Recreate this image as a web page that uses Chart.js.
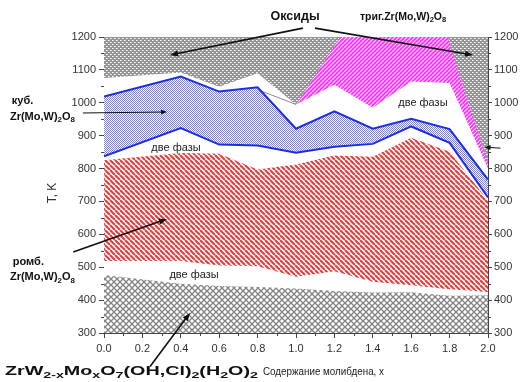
<!DOCTYPE html>
<html>
<head>
<meta charset="utf-8">
<script src="https://cdn.jsdelivr.net/npm/chart.js@4.4.0/dist/chart.umd.min.js"></script>
<style>
  html, body { margin: 0; padding: 0; background: #fff; }
  #wrap { width: 521px; height: 382px; }
</style>
</head>
<body>
<div id="wrap"><canvas id="chart" width="521" height="382"></canvas></div>
<script>
// Mo content, x
const xMo = [0, 0.4, 0.6, 0.8, 1.0, 1.2, 1.4, 1.6, 1.8, 2.0];
// phase boundaries, K
const hydrateTop  = [476, 450, 443, 440, 435, 428, 423, 424, 413, 415];
const orthoBottom = [519, 519, 505, 503, 471, 488, 456, 445, 433, 425];
const orthoTop    = [825, 847, 845, 797, 812, 840, 836, 894, 851, 703];
const cubicBottom = [837, 923, 873, 870, 848, 866, 875, 928, 878, 712];
const cubicTop    = [1019, 1080, 1034, 1047, 921, 974, 921, 951, 920, 766];
const oxideBottom = [1075, 1092, 1049, 1090, 995, 1055, 985, 1065, 1060, 800];
const oxideTop    = [1200, 1200, 1200, 1200, 1200, 1200, 1200, 1200, 1200, 1200];
// trigonal region upper edge
const trigX = [1.0, 1.23, 1.79, 2.0];
const trigTop = [995, 1200, 1200, 815];
// thin tie line
const tieX = [0.8, 1.0];
const tieT = [1040, 995];

const xTicks = [0, 0.2, 0.4, 0.6, 0.8, 1.0, 1.2, 1.4, 1.6, 1.8, 2.0];
const yTicks = [300, 400, 500, 600, 700, 800, 900, 1000, 1100, 1200];
const xMinor = [0.1, 0.3, 0.5, 0.7, 0.9, 1.1, 1.3, 1.5, 1.7, 1.9];
const yMinor = [350, 450, 550, 650, 750, 850, 950, 1050, 1150];

// annotations (data coords); fit = target width in px
const notes = [
  { text: 'Оксиды', x: 0.995, t: 1261, size: 12.5, bold: true, align: 'center' },
  { text: 'триг.Zr(Mo,W)_2O_8', x: 1.333, t: 1261, size: 10.5, bold: true, align: 'left' },
  { text: 'куб.', x: -0.48, t: 1005, size: 11, bold: true, align: 'left' },
  { text: 'Zr(Mo,W)_2O_8', x: -0.49, t: 957, size: 11, bold: true, align: 'left' },
  { text: 'ромб.', x: -0.475, t: 516, size: 11, bold: true, align: 'left' },
  { text: 'Zr(Mo,W)_2O_8', x: -0.49, t: 470, size: 11, bold: true, align: 'left' },
  { text: 'ZrW_{2-x}Mo_xO_7(OH,Cl)_2(H_2O)_2', x: -0.516, t: 183, size: 13.5, bold: true, align: 'left', fit: 253 },
  { text: 'Содержание молибдена, x', x: 0.828, t: 183, size: 11, bold: false, align: 'left', fit: 121 },
  { text: 'две фазы', x: 0.375, t: 862, size: 11, bold: false, align: 'center' },
  { text: 'две фазы', x: 1.661, t: 999, size: 11, bold: false, align: 'center' },
  { text: 'две фазы', x: 0.469, t: 476, size: 11, bold: false, align: 'center' }
];
const arrows = [
  { from: [1.036, 1227], to: [0.344, 1145] },
  { from: [1.099, 1227], to: [1.922, 1145] },
  { from: [-0.11, 969], to: [0.328, 972], thin: true },
  { from: [-0.16, 546], to: [0.328, 647] },
  { from: [0.24, 198], to: [0.448, 361] },
  { from: [2.065, 862], to: [1.982, 865], thin: true }
];

function makePattern(w, h, draw) {
  const c = document.createElement('canvas');
  c.width = w; c.height = h;
  const g = c.getContext('2d');
  draw(g, w, h);
  return g.createPattern(c, 'repeat');
}
const oxidePat = makePattern(4, 4, g => {
  g.fillStyle = '#959595'; g.fillRect(0, 0, 4, 4);
  g.fillStyle = '#ffffff'; g.fillRect(0, 0, 1, 1); g.fillRect(2, 2, 1, 1);
  g.fillStyle = '#d8d8d8'; g.fillRect(1, 0, 1, 1); g.fillRect(3, 2, 1, 1);
});
const hydratePat = makePattern(6, 6, g => {
  g.fillStyle = '#fff'; g.fillRect(0, 0, 6, 6);
  g.strokeStyle = '#858585'; g.lineWidth = 1.3;
  [-6, 0, 6].forEach(o => {
    g.beginPath(); g.moveTo(o, 0); g.lineTo(o + 6, 6); g.stroke();
    g.beginPath(); g.moveTo(o, 6); g.lineTo(o + 6, 0); g.stroke();
  });
});
const redPat = makePattern(5, 5, g => {
  g.fillStyle = '#fff'; g.fillRect(0, 0, 5, 5);
  g.strokeStyle = '#e83a3a'; g.lineWidth = 2;
  [-5, 0, 5].forEach(o => { g.beginPath(); g.moveTo(o, 0); g.lineTo(o + 5, 5); g.stroke(); });
});
const magentaPat = makePattern(4, 4, g => {
  g.fillStyle = '#f03cf0'; g.fillRect(0, 0, 4, 4);
  g.strokeStyle = 'rgba(255,255,255,0.85)'; g.lineWidth = 1.1;
  [-4, 0, 4].forEach(o => { g.beginPath(); g.moveTo(o, 4); g.lineTo(o + 4, 0); g.stroke(); });
});
const bluePat = makePattern(2, 2, g => {
  g.fillStyle = '#fff'; g.fillRect(0, 0, 2, 2);
  g.fillStyle = '#7c7cec'; g.fillRect(0, 0, 1, 1); g.fillRect(1, 1, 1, 1);
});

const pts = (xs, ys) => xs.map((v, i) => ({ x: v, y: ys[i] }));
function layer(label, xs, ys, bg, order, extra) {
  return Object.assign({
    label, data: pts(xs, ys), fill: 'start', backgroundColor: bg,
    borderWidth: 0, pointRadius: 0, tension: 0, order
  }, extra || {});
}

// text with _x / _{xx} subscripts
function richText(ctx, str, x, y, size, bold, align, fit) {
  const parts = [];
  const re = /_\{([^}]*)\}|_(.)/g;
  let last = 0, m;
  while ((m = re.exec(str))) {
    if (m.index > last) parts.push({ t: str.slice(last, m.index), sub: false });
    parts.push({ t: m[1] || m[2], sub: true });
    last = re.lastIndex;
  }
  if (last < str.length) parts.push({ t: str.slice(last), sub: false });
  const fam = 'Arial, "Liberation Sans", sans-serif';
  const w = p => {
    ctx.font = (bold ? 'bold ' : '') + (p.sub ? size * 0.72 : size) + 'px ' + fam;
    return ctx.measureText(p.t).width;
  };
  const total = parts.reduce((s, p) => s + w(p), 0);
  const k = fit ? fit / total : 1;
  ctx.save();
  ctx.translate(align === 'center' ? x - total * k / 2 : x, y);
  ctx.scale(k, 1);
  ctx.textAlign = 'left';
  ctx.textBaseline = 'middle';
  let cx = 0;
  parts.forEach(p => {
    const pw = w(p);
    ctx.fillText(p.t, cx, p.sub ? size * 0.3 : 0);
    cx += pw;
  });
  ctx.restore();
}

function drawArrow(ctx, x1, y1, x2, y2, thin) {
  const a = Math.atan2(y2 - y1, x2 - x1);
  const hl = thin ? 6 : 8, hw = thin ? 2.5 : 3;
  ctx.lineWidth = thin ? 1 : 1.6;
  ctx.beginPath(); ctx.moveTo(x1, y1);
  ctx.lineTo(x2 - Math.cos(a) * hl * 0.8, y2 - Math.sin(a) * hl * 0.8); ctx.stroke();
  ctx.beginPath();
  ctx.moveTo(x2, y2);
  ctx.lineTo(x2 - Math.cos(a) * hl + Math.sin(a) * hw, y2 - Math.sin(a) * hl - Math.cos(a) * hw);
  ctx.lineTo(x2 - Math.cos(a) * hl - Math.sin(a) * hw, y2 - Math.sin(a) * hl + Math.cos(a) * hw);
  ctx.closePath(); ctx.fill();
}

const decor = {
  id: 'decor',
  afterDraw(chart) {
    const { ctx } = chart;
    const sx = chart.scales.x, sy = chart.scales.y;
    const P = (a, b) => [sx.getPixelForValue(a), sy.getPixelForValue(b)];
    ctx.save();
    // minor ticks
    ctx.strokeStyle = '#444'; ctx.lineWidth = 1;
    xMinor.forEach(v => {
      const px = Math.round(sx.getPixelForValue(v)) + 0.5;
      ctx.beginPath(); ctx.moveTo(px, sy.bottom); ctx.lineTo(px, sy.bottom + 3); ctx.stroke();
    });
    yMinor.forEach(v => {
      const py = Math.round(sy.getPixelForValue(v)) + 0.5;
      ctx.beginPath(); ctx.moveTo(sx.left, py); ctx.lineTo(sx.left - 3, py); ctx.stroke();
      ctx.beginPath(); ctx.moveTo(sx.right, py); ctx.lineTo(sx.right + 3, py); ctx.stroke();
    });
    // axis title
    ctx.fillStyle = '#333';
    ctx.save();
    ctx.translate(53, 193);
    ctx.rotate(-Math.PI / 2);
    ctx.font = '12px Arial, "Liberation Sans", sans-serif';
    ctx.textAlign = 'center'; ctx.textBaseline = 'middle';
    ctx.fillText('T, K', 0, 0);
    ctx.restore();
    // arrows
    ctx.strokeStyle = '#111'; ctx.fillStyle = '#111';
    arrows.forEach(a => {
      const [x1, y1] = P(a.from[0], a.from[1]);
      const [x2, y2] = P(a.to[0], a.to[1]);
      drawArrow(ctx, x1, y1, x2, y2, a.thin);
    });
    // labels
    notes.forEach(n => {
      const [px, py] = P(n.x, n.t);
      ctx.fillStyle = n.bold ? '#111' : '#222';
      richText(ctx, n.text, px, py, n.size, n.bold, n.align, n.fit);
    });
    ctx.restore();
  }
};

const tickFont = { family: 'Arial, "Liberation Sans", sans-serif', size: 11 };
const axisColor = '#444';

new Chart(document.getElementById('chart'), {
  type: 'line',
  data: {
    datasets: [
      layer('Оксиды', xMo, oxideTop, oxidePat, 10),
      layer('триг. Zr(Mo,W)2O8', trigX, trigTop, magentaPat, 9),
      layer('две фазы', xMo, oxideBottom, '#ffffff', 8),
      { label: 'tie', data: pts(tieX, tieT), fill: false, borderColor: '#8a8a8a',
        borderWidth: 1, pointRadius: 0, order: 7 },
      layer('куб. Zr(Mo,W)2O8', xMo, cubicTop, bluePat, 6, { borderColor: '#1c2ee0', borderWidth: 2 }),
      layer('две фазы ', xMo, cubicBottom, '#ffffff', 5, { borderColor: '#1c2ee0', borderWidth: 2 }),
      layer('ромб. Zr(Mo,W)2O8', xMo, orthoTop, redPat, 4),
      layer('две фазы  ', xMo, orthoBottom, '#ffffff', 3),
      layer('ZrW2-xMoxO7(OH,Cl)2(H2O)2', xMo, hydrateTop, hydratePat, 2)
    ]
  },
  options: {
    responsive: false,
    animation: false,
    layout: { padding: { top: 37, left: 0, right: 0, bottom: 0 } },
    plugins: { legend: { display: false }, tooltip: { enabled: false } },
    scales: {
      x: {
        type: 'linear', min: 0, max: 2, position: 'bottom',
        afterBuildTicks: s => { s.ticks = xTicks.map(v => ({ value: v })); },
        afterFit: s => { s.height = 49; },
        ticks: { font: tickFont, color: '#333', padding: 4, maxRotation: 0, autoSkip: false,
                 callback: v => Number(v).toFixed(1) },
        grid: { drawOnChartArea: false, tickLength: 5, color: axisColor },
        border: { color: axisColor, width: 1 }
      },
      y: {
        type: 'linear', min: 300, max: 1200, position: 'left',
        afterBuildTicks: s => { s.ticks = yTicks.map(v => ({ value: v })); },
        afterFit: s => { s.width = 104; },
        ticks: { font: tickFont, color: '#333', padding: 3, callback: v => String(v) },
        grid: { drawOnChartArea: false, tickLength: 5, color: axisColor },
        border: { color: axisColor, width: 1 }
      },
      y2: {
        type: 'linear', min: 300, max: 1200, position: 'right',
        afterBuildTicks: s => { s.ticks = yTicks.map(v => ({ value: v })); },
        afterFit: s => { s.width = 33; },
        ticks: { font: tickFont, color: '#333', padding: 2, callback: v => String(v) },
        grid: { drawOnChartArea: false, tickLength: 4, color: axisColor },
        border: { color: axisColor, width: 1 }
      }
    }
  },
  plugins: [decor]
});
</script>
</body>
</html>
